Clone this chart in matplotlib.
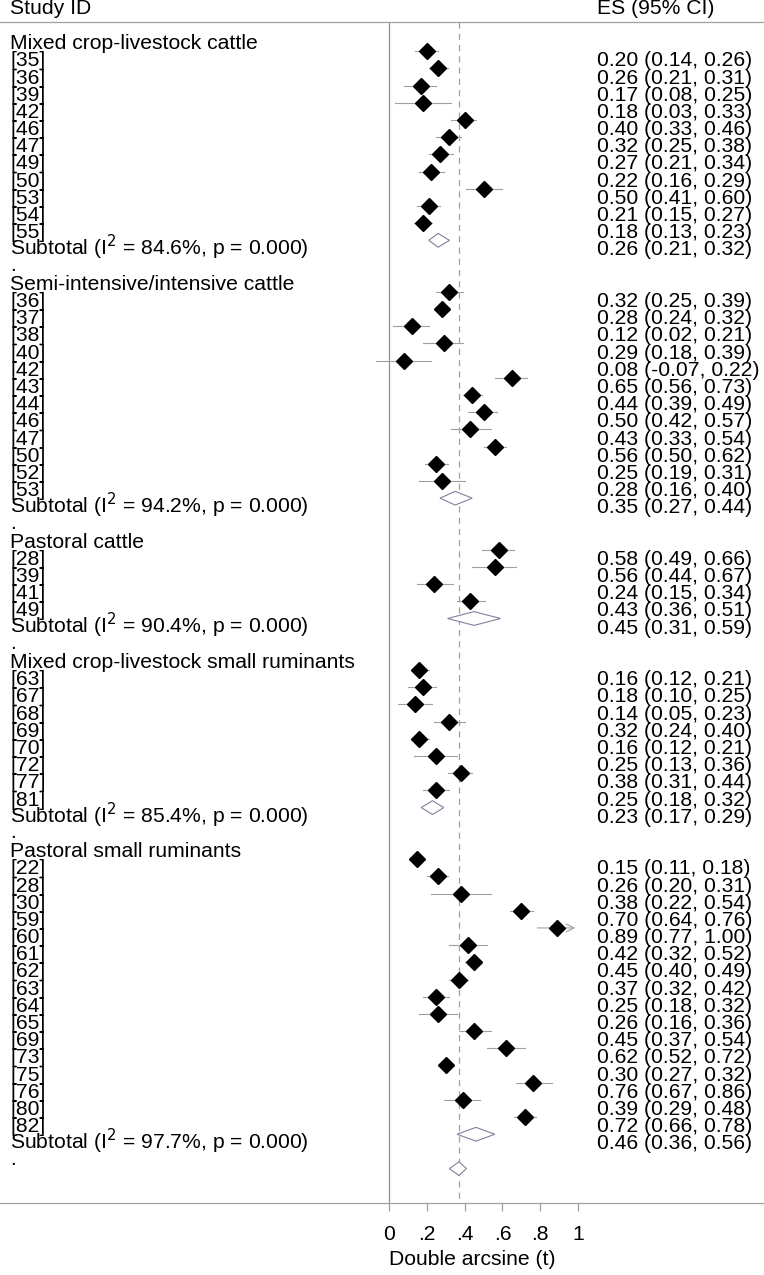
import matplotlib
matplotlib.use('Agg')
import matplotlib.pyplot as plt

plt.rcParams['font.family'] = ['Liberation Sans', 'DejaVu Sans']

# groups of studies (ES and 95% CI, double arcsine)
group_names = ['Mixed crop-livestock cattle', 'Semi-intensive/intensive cattle', 'Pastoral cattle',
               'Mixed crop-livestock small ruminants', 'Pastoral small ruminants']

ids1 = ['[35]', '[36]', '[39]', '[42]', '[46]', '[47]', '[49]', '[50]', '[53]', '[54]', '[55]']
es1 = [0.20, 0.26, 0.17, 0.18, 0.40, 0.32, 0.27, 0.22, 0.50, 0.21, 0.18]
lo1 = [0.14, 0.21, 0.08, 0.03, 0.33, 0.25, 0.21, 0.16, 0.41, 0.15, 0.13]
hi1 = [0.26, 0.31, 0.25, 0.33, 0.46, 0.38, 0.34, 0.29, 0.60, 0.27, 0.23]

ids2 = ['[36]', '[37]', '[38]', '[40]', '[42]', '[43]', '[44]', '[46]', '[47]', '[50]', '[52]', '[53]']
es2 = [0.32, 0.28, 0.12, 0.29, 0.08, 0.65, 0.44, 0.50, 0.43, 0.56, 0.25, 0.28]
lo2 = [0.25, 0.24, 0.02, 0.18, -0.07, 0.56, 0.39, 0.42, 0.33, 0.50, 0.19, 0.16]
hi2 = [0.39, 0.32, 0.21, 0.39, 0.22, 0.73, 0.49, 0.57, 0.54, 0.62, 0.31, 0.40]

ids3 = ['[28]', '[39]', '[41]', '[49]']
es3 = [0.58, 0.56, 0.24, 0.43]
lo3 = [0.49, 0.44, 0.15, 0.36]
hi3 = [0.66, 0.67, 0.34, 0.51]

ids4 = ['[63]', '[67]', '[68]', '[69]', '[70]', '[72]', '[77]', '[81]']
es4 = [0.16, 0.18, 0.14, 0.32, 0.16, 0.25, 0.38, 0.25]
lo4 = [0.12, 0.10, 0.05, 0.24, 0.12, 0.13, 0.31, 0.18]
hi4 = [0.21, 0.25, 0.23, 0.40, 0.21, 0.36, 0.44, 0.32]

ids5 = ['[22]', '[28]', '[30]', '[59]', '[60]', '[61]', '[62]', '[63]', '[64]', '[65]', '[69]', '[73]',
        '[75]', '[76]', '[80]', '[82]']
es5 = [0.15, 0.26, 0.38, 0.70, 0.89, 0.42, 0.45, 0.37, 0.25, 0.26, 0.45, 0.62, 0.30, 0.76, 0.39, 0.72]
lo5 = [0.11, 0.20, 0.22, 0.64, 0.77, 0.32, 0.40, 0.32, 0.18, 0.16, 0.37, 0.52, 0.27, 0.67, 0.29, 0.66]
hi5 = [0.18, 0.31, 0.54, 0.76, 1.00, 0.52, 0.49, 0.42, 0.32, 0.36, 0.54, 0.72, 0.32, 0.86, 0.48, 0.78]

sub_es = [0.26, 0.35, 0.45, 0.23, 0.46]
sub_lo = [0.21, 0.27, 0.31, 0.17, 0.36]
sub_hi = [0.32, 0.44, 0.59, 0.29, 0.56]
sub_i2 = ['84.6%', '94.2%', '90.4%', '85.4%', '97.7%']
sub_p = ['0.000', '0.000', '0.000', '0.000', '0.000']

overall_es = 0.37
overall_lo = 0.32
overall_hi = 0.41

xticks = [0, 0.2, 0.4, 0.6, 0.8, 1.0]
xticklabels = ['0', '.2', '.4', '.6', '.8', '1']

groups = [(ids1, es1, lo1, hi1), (ids2, es2, lo2, hi2), (ids3, es3, lo3, hi3),
          (ids4, es4, lo4, hi4), (ids5, es5, lo5, hi5)]

fig = plt.figure(figsize=(7.64, 12.75), dpi=100)
ax = fig.add_axes([0, 1 - 1203 / 1275, 1, 1181 / 1275])
ax.set_xlim(-389 / 189, (764 - 389) / 189)
ax.set_ylim(68, -0.7)

grey = '#a0a0a0'
dgrey = '#909090'
dcol = '#8080a0'
fs = 15.2
xlab = -379 / 189   # left text column
xes = (597 - 389) / 189  # ES column
toff = 0.88


def diamond(y, es, lo, hi):
    ax.fill([lo, es, hi, es, lo], [y, y - 0.4, y, y + 0.4, y], facecolor='white',
            edgecolor=dcol, linewidth=0.8, zorder=3)


row = 0
for g in range(len(groups)):
    ids, es, lo, hi = groups[g]
    ax.text(xlab, row + toff, group_names[g], fontsize=fs, va='baseline', ha='left')
    row += 1
    for i in range(len(ids)):
        ax.text(xlab, row + toff, ids[i], fontsize=fs, va='baseline', ha='left')
        ax.text(xes, row + toff, f'{es[i]:.2f} ({lo[i]:.2f}, {hi[i]:.2f})', fontsize=fs,
                va='baseline', ha='left')
        if hi[i] >= 1.0:
            ax.annotate('', xy=(1.0, row), xytext=(lo[i], row),
                        arrowprops=dict(arrowstyle='->', color=grey, lw=0.8, mutation_scale=14))
        else:
            ax.plot([lo[i], hi[i]], [row, row], color=grey, lw=0.8, zorder=2)
        ax.plot(es[i], row, marker='D', color='black', markersize=8.5, zorder=4)
        row += 1
    ax.text(xlab, row + toff, f'Subtotal (I$^2$ = {sub_i2[g]}, p = {sub_p[g]})', fontsize=fs,
            va='baseline', ha='left')
    ax.text(xes, row + toff, f'{sub_es[g]:.2f} ({sub_lo[g]:.2f}, {sub_hi[g]:.2f})', fontsize=fs,
            va='baseline', ha='left')
    diamond(row, sub_es[g], sub_lo[g], sub_hi[g])
    row += 1
    ax.text(xlab, row + toff - 0.1, '.', fontsize=fs, va='baseline', ha='left')
    row += 1

# overall
diamond(row, overall_es, overall_lo, overall_hi)

ax.plot([0, 0], [-0.7, 68], color=dgrey, lw=0.9, zorder=1)
ax.plot([overall_es, overall_es], [-0.7, 68], color=grey, lw=0.9, ls=(0, (5, 4)), zorder=1)

ax.text(xlab, -1.15, 'Study ID', fontsize=fs, va='baseline', ha='left', clip_on=False)
ax.text(xes, -1.15, 'ES (95% CI)', fontsize=fs, va='baseline', ha='left', clip_on=False)

for s in ['left', 'right']:
    ax.spines[s].set_visible(False)
for s in ['top', 'bottom']:
    ax.spines[s].set_color(grey)
    ax.spines[s].set_linewidth(0.9)
ax.set_yticks([])
ax.set_xticks(xticks)
ax.set_xticklabels(xticklabels, fontsize=fs)
ax.tick_params(axis='x', direction='out', length=6, width=0.9, color=grey, pad=10)
ax.set_xlabel('Double arcsine (t)', fontsize=fs)
ax.xaxis.set_label_coords(472 / 764, -0.0395)

plt.rcParams['mathtext.fontset'] = 'custom'
fig.savefig('out.png', dpi=100)
